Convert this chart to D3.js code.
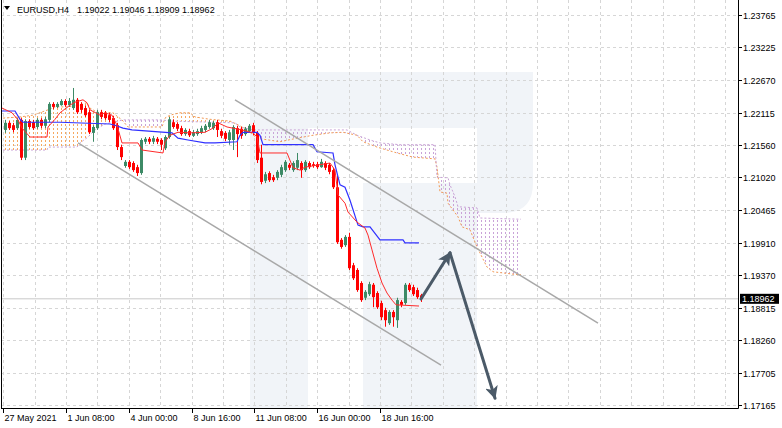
<!DOCTYPE html>
<html><head><meta charset="utf-8">
<script src="https://cdn.jsdelivr.net/npm/d3@7"></script>
<style>html,body{margin:0;padding:0;background:#fff;overflow:hidden}svg{display:block}</style>
</head><body><svg id="c" width="782" height="428"></svg>
<script>
const symbol = "EURUSD,H4";
const headerValues = ["1.19022", "1.19046", "1.18909", "1.18962"];
const lastClose = 1.18962;

const opens  = [1.2182,1.2194,1.2190,1.2185,1.2199,1.2135,1.2197,1.2195,1.2187,1.2199,1.2189,1.2199,1.2226,1.2221,1.2224,1.2231,1.2224,1.2219,1.2233,1.2226,1.2219,1.2212,1.2177,1.2185,1.2212,1.2211,1.2207,1.2202,1.2190,1.2153,1.2121,1.2128,1.2126,1.2119,1.2109,1.2162,1.2167,1.2162,1.2167,1.2165,1.2151,1.2170,1.2195,1.2192,1.2185,1.2175,1.2180,1.2172,1.2175,1.2178,1.2182,1.2187,1.2185,1.2195,1.2180,1.2177,1.2165,1.2165,1.2185,1.2184,1.2175,1.2180,1.2190,1.2177,1.2135,1.2096,1.2109,1.2102,1.2101,1.2106,1.2114,1.2123,1.2114,1.2118,1.2126,1.2114,1.2126,1.2124,1.2124,1.2119,1.2126,1.2123,1.2114,1.2085,1.1996,1.1987,1.2001,1.1953,1.1945,1.1923,1.1898,1.1904,1.1920,1.1906,1.1889,1.1877,1.1855,1.1874,1.1860,1.1891,1.1889,1.1920,1.1916,1.1911,1.19022];
const highs  = [1.2199,1.2197,1.2194,1.2202,1.2202,1.2200,1.2200,1.2199,1.2202,1.2202,1.2204,1.2229,1.2229,1.2229,1.2234,1.2234,1.2236,1.2253,1.2236,1.2229,1.2223,1.2216,1.2190,1.2216,1.2216,1.2214,1.2211,1.2206,1.2194,1.2157,1.2131,1.2131,1.2129,1.2123,1.2168,1.2170,1.2170,1.2172,1.2170,1.2168,1.2173,1.2204,1.2200,1.2195,1.2189,1.2185,1.2184,1.2182,1.2184,1.2189,1.2192,1.2199,1.2197,1.2199,1.2184,1.2180,1.2182,1.2190,1.2189,1.2187,1.2187,1.2192,1.2194,1.2180,1.2157,1.2111,1.2112,1.2106,1.2114,1.2123,1.2131,1.2126,1.2129,1.2143,1.2129,1.2131,1.2129,1.2128,1.2128,1.2133,1.2129,1.2126,1.2118,1.2104,1.1999,1.2004,1.2008,1.1957,1.1948,1.1926,1.1911,1.1925,1.1923,1.1909,1.1893,1.1881,1.1877,1.1877,1.1898,1.1894,1.1923,1.1923,1.1920,1.1915,1.19046];
const lows   = [1.2177,1.2182,1.2178,1.2182,1.2131,1.2131,1.2184,1.2182,1.2184,1.2185,1.2185,1.2195,1.2217,1.2219,1.2223,1.2221,1.2221,1.2216,1.2209,1.2211,1.2204,1.2175,1.2162,1.2182,1.2200,1.2199,1.2195,1.2182,1.2148,1.2131,1.2118,1.2116,1.2111,1.2104,1.2106,1.2158,1.2158,1.2158,1.2158,1.2148,1.2148,1.2167,1.2184,1.2180,1.2172,1.2172,1.2170,1.2170,1.2172,1.2175,1.2178,1.2184,1.2182,1.2170,1.2168,1.2163,1.2157,1.2148,1.2136,1.2167,1.2172,1.2177,1.2173,1.2126,1.2090,1.2092,1.2094,1.2094,1.2097,1.2102,1.2111,1.2114,1.2111,1.2114,1.2101,1.2111,1.2116,1.2118,1.2116,1.2118,1.2114,1.2107,1.2082,1.1989,1.1981,1.1984,1.1945,1.1928,1.1908,1.1891,1.1894,1.1901,1.1882,1.1879,1.1860,1.1849,1.1852,1.1849,1.1847,1.1882,1.1886,1.1908,1.1901,1.1896,1.18909];
const closes = [1.2194,1.2185,1.2182,1.2199,1.2135,1.2197,1.2187,1.2185,1.2199,1.2189,1.2200,1.2226,1.2221,1.2226,1.2231,1.2224,1.2231,1.2233,1.2212,1.2216,1.2207,1.2178,1.2187,1.2212,1.2204,1.2202,1.2199,1.2185,1.2153,1.2136,1.2128,1.2119,1.2114,1.2109,1.2165,1.2167,1.2162,1.2168,1.2162,1.2157,1.2170,1.2200,1.2187,1.2184,1.2175,1.2182,1.2173,1.2178,1.2180,1.2185,1.2189,1.2195,1.2194,1.2182,1.2172,1.2167,1.2178,1.2187,1.2175,1.2172,1.2184,1.2189,1.2177,1.2131,1.2094,1.2107,1.2097,1.2097,1.2111,1.2119,1.2128,1.2118,1.2126,1.2131,1.2114,1.2128,1.2119,1.2121,1.2119,1.2128,1.2118,1.2111,1.2085,1.1992,1.1984,1.2001,1.1948,1.1931,1.1911,1.1894,1.1908,1.1921,1.1899,1.1882,1.1865,1.1860,1.1874,1.1865,1.1894,1.1886,1.1920,1.1911,1.1904,1.1899,1.18962];

// Ichimoku lines: [bar index, price]
const tenkan = [[-0.75,1.2219],[1.75,1.2211],[3.25,1.2199],[4.25,1.2185],[6.25,1.2170],[10.5,1.2170],[10.75,1.2187],[12.5,1.2200],[13.75,1.2211],[16.25,1.2224],[17.5,1.2229],[19.5,1.2233],[20.5,1.2228],[21.25,1.2216],[23.75,1.2207],[25,1.2211],[26.75,1.2207],[28,1.2190],[29.25,1.2160],[33.25,1.2160],[34.25,1.2148],[39.5,1.2143],[40,1.2162],[41.25,1.2173],[43.25,1.2178],[46.25,1.2177],[50,1.2178],[52,1.2185],[53.25,1.2194],[55.5,1.2187],[59.25,1.2182],[62,1.2177],[63,1.2170],[63.75,1.2143],[70.5,1.2143],[72,1.2118],[73.75,1.2114],[75,1.2119],[81.25,1.2126],[82.5,1.2114],[83.25,1.2072],[85,1.2058],[85.75,1.2043],[88,1.2026],[90,1.2016],[90.75,1.2004],[91.75,1.1979],[93,1.1948],[94.25,1.1923],[95.5,1.1906],[96.75,1.1894],[97.75,1.1886],[103.5,1.1884]];
const kijun = [[-0.75,1.2214],[2.5,1.2214],[3.75,1.2200],[4.5,1.2195],[13.75,1.2195],[26.25,1.2192],[27.5,1.2190],[29.5,1.2185],[31.75,1.2182],[41.75,1.2177],[43.25,1.2168],[45.75,1.2165],[50,1.2160],[52.5,1.2160],[58,1.2162],[58.75,1.2173],[59.5,1.2178],[63,1.2178],[63.75,1.2173],[64.5,1.2157],[77,1.2157],[78,1.2145],[82,1.2143],[82.5,1.2123],[83.75,1.2089],[85,1.2085],[86.25,1.2063],[88.25,1.2021],[89.5,1.2018],[91.25,1.2018],[93.75,1.1996],[99.5,1.1996],[100,1.1991],[103.5,1.1991]];
const spanA = [[-0.5,1.2202],[3.75,1.2204],[7,1.2207],[10.75,1.2216],[12.5,1.2221],[15.5,1.2221],[18.75,1.2224],[20.5,1.2228],[21.25,1.2219],[23,1.2212],[27,1.2211],[28.25,1.2204],[29.25,1.2199],[30.75,1.2187],[39.25,1.2187],[40,1.2202],[41.25,1.2207],[43.75,1.2211],[46.25,1.2211],[47.5,1.2204],[51.25,1.2200],[56.25,1.2197],[60,1.2185],[63,1.2168],[68.75,1.2162],[73,1.2168],[77,1.2173],[81.25,1.2177],[84.5,1.2178],[88,1.2173],[89.5,1.2162],[93,1.2153],[98,1.2143],[102,1.2136],[107.5,1.2133],[108,1.2119],[108.75,1.2077],[110.5,1.2075],[110.75,1.2058],[113.25,1.2035],[114.25,1.2018],[116.25,1.2013],[118,1.1984],[120.5,1.1950],[122,1.1942],[128.25,1.1937],[129,1.1937]];
const spanB = [[-0.5,1.2148],[10.5,1.2148],[10.75,1.2153],[18,1.2153],[18.75,1.2160],[20.75,1.2170],[22.5,1.2182],[25,1.2192],[28.25,1.2197],[29.5,1.2199],[39.25,1.2199],[41.25,1.2197],[57.5,1.2194],[58.75,1.2187],[62,1.2182],[85.5,1.2182],[88,1.2173],[91.25,1.2165],[93.75,1.2160],[98.75,1.2157],[107.5,1.2157],[108,1.2102],[110.75,1.2101],[111.25,1.2089],[112.5,1.2069],[113.25,1.2052],[118,1.2050],[118.75,1.2033],[128.25,1.2031],[129,1.2031]];

const priceTicks = [1.23765,1.23225,1.22670,1.22115,1.21560,1.21020,1.20465,1.19910,1.19370,1.18815,1.18260,1.17705,1.17165];
const timeLabels = ["27 May 2021","1 Jun 08:00","4 Jun 00:00","8 Jun 16:00","11 Jun 08:00","16 Jun 00:00","18 Jun 16:00"];
const timeLabelBars = [-0.45,15.25,30.95,46.65,62.35,78.05,93.75];

const channelUpper = [[57.5,1.2233],[148.25,1.1855]];
const channelLower = [[18.25,1.2160],[109,1.1784]];
const forecastUp = [[104,1.1896],[111.25,1.1974]];
const forecastDown = [[111.25,1.1974],[122.5,1.1728]];

const plotL = 1, plotR = 738, plotB = 408;
const GREEN = "#3d8a66", RED = "#ff0000";
const FONT = "'Liberation Sans', Arial, sans-serif";

const x = d3.scaleLinear().domain([0,104]).range([5,421]);
const y = d3.scaleLinear().domain([1.23765,1.17165]).range([15,405]);
const svg = d3.select('#c');
const defs = svg.append('defs');

// watermark
const wm = svg.append('g').attr('fill','#f1f4f8');
wm.append('rect').attr('x',250).attr('y',72).attr('width',58).attr('height',336);
wm.append('path').attr('d','M250,72 H493 Q533,72 533,112 V128 H250 Z');
wm.append('path').attr('d','M477,72 H533 V183 Q533,213 503,213 H477 Z');
wm.append('rect').attr('x',363).attr('y',183).attr('width',140).attr('height',30);
wm.append('rect').attr('x',363).attr('y',183).attr('width',114).attr('height',225);

// grid
const grid = svg.append('g').attr('stroke','#d6d6d6').attr('stroke-width',1).attr('stroke-dasharray','3,3').attr('shape-rendering','crispEdges');
priceTicks.forEach(t=>{
  const yy = Math.round(y(t))+0.5;
  grid.append('line').attr('x1',plotL).attr('x2',plotR).attr('y1',yy).attr('y2',yy);
});
const gridBars = d3.range(24).map(n => timeLabelBars[0] + n*7.85);
gridBars.forEach(b=>{
  const xx = Math.round(x(b))+0.5;
  if (xx > plotL+1 && xx < plotR) grid.append('line').attr('x1',xx).attr('x2',xx).attr('y1',0).attr('y2',plotB);
});

// cloud hatch (vertical dotted lines per bar, clipped between the spans)
const pts = arr => arr.map(d=>[x(d[0]),y(d[1])]);
const pA = pts(spanA), pB = pts(spanB);
const poly = (p, yEdge) => 'M' + p.map(d=>d.join(',')).join('L') + `L${p[p.length-1][0]},${yEdge}L${p[0][0]},${yEdge}Z`;
defs.append('clipPath').attr('id','aboveB').append('path').attr('d',poly(pB,0));
defs.append('clipPath').attr('id','belowB').append('path').attr('d',poly(pB,plotB));
defs.append('clipPath').attr('id','aboveA').append('path').attr('d',poly(pA,0));
defs.append('clipPath').attr('id','belowA').append('path').attr('d',poly(pA,plotB));
const hatchBars = d3.range(0, 130);
function hatch(outerClip, innerClip, color){
  const g = svg.append('g').attr('clip-path',`url(#${outerClip})`).append('g').attr('clip-path',`url(#${innerClip})`)
    .attr('shape-rendering','crispEdges');
  hatchBars.forEach(b=>{
    const xx = Math.round(x(b))+0.5;
    g.append('line').attr('x1',xx).attr('x2',xx).attr('y1',0).attr('y2',plotB)
      .attr('stroke',color).attr('stroke-width',1).attr('stroke-dasharray','2,2');
  });
}
hatch('aboveB','belowA','#f6a860');
hatch('belowB','aboveA','#c9a3d8');

const line = d3.line().x(d=>x(d[0])).y(d=>y(d[1]));
svg.append('path').attr('d',line(spanA)).attr('fill','none').attr('stroke','#f29a55').attr('stroke-dasharray','2,2');
svg.append('path').attr('d',line(spanB)).attr('fill','none').attr('stroke','#c9a3d6').attr('stroke-dasharray','2,2');

// current price line
const yc = y(lastClose);
svg.append('line').attr('x1',plotL).attr('x2',plotR).attr('y1',yc).attr('y2',yc).attr('stroke','#c8c8c8');

// candles
const cg = svg.append('g');
opens.forEach((o,i)=>{
  const h=highs[i], l=lows[i], c=closes[i];
  const cx = Math.round(x(i))+0.5;
  const col = c>=o ? GREEN : RED;
  cg.append('line').attr('x1',cx).attr('x2',cx).attr('y1',y(h)).attr('y2',y(l)).attr('stroke',col);
  const top=y(Math.max(o,c)), bot=y(Math.min(o,c));
  cg.append('rect').attr('x',cx-1.5).attr('y',top).attr('width',3).attr('height',Math.max(1,bot-top)).attr('fill',col);
});

// tenkan / kijun
svg.append('path').attr('d',line(kijun)).attr('fill','none').attr('stroke','#3030ff').attr('stroke-width',1.2);
svg.append('path').attr('d',line(tenkan)).attr('fill','none').attr('stroke','#ff2a2a').attr('stroke-width',1);

// channel
[channelUpper, channelLower].forEach(c=>{
  svg.append('path').attr('d',line(c)).attr('fill','none').attr('stroke','#a8a8a8').attr('stroke-width',1.5);
});

// forecast arrows
defs.append('marker').attr('id','arrow').attr('viewBox','0 0 12 12').attr('refX',11).attr('refY',6)
  .attr('markerWidth',13).attr('markerHeight',13).attr('markerUnits','userSpaceOnUse').attr('orient','auto')
  .append('path').attr('d','M0,0 L12,6 L0,12 L3,6 Z').attr('fill','#4b5a68');
[forecastUp, forecastDown].forEach(f=>{
  svg.append('path').attr('d',line(f)).attr('fill','none').attr('stroke','#4b5a68').attr('stroke-width',3)
    .attr('stroke-linecap','round').attr('marker-end','url(#arrow)');
});

// frame / axes
svg.append('line').attr('x1',plotR+0.5).attr('x2',plotR+0.5).attr('y1',0).attr('y2',plotB+0.5).attr('stroke','#000');
svg.append('line').attr('x1',plotL).attr('x2',plotR+0.5).attr('y1',plotB+0.5).attr('y2',plotB+0.5).attr('stroke','#000');
svg.append('line').attr('x1',plotL+0.5).attr('x2',plotL+0.5).attr('y1',0).attr('y2',plotB+0.5).attr('stroke','#000');

const ax = svg.append('g').attr('font-family',FONT).attr('font-size','9px').attr('fill','#000');
priceTicks.forEach(t=>{
  const yy = Math.round(y(t))+0.5;
  ax.append('line').attr('x1',plotR).attr('x2',plotR+4).attr('y1',yy).attr('y2',yy).attr('stroke','#000');
  ax.append('text').attr('x',plotR+5).attr('y',yy+3.2).text(t.toFixed(5));
});
timeLabels.forEach((t,i)=>{
  const xx = Math.max(plotL+0.5, Math.round(x(timeLabelBars[i]))+0.5);
  ax.append('line').attr('x1',xx).attr('x2',xx).attr('y1',plotB).attr('y2',plotB+5).attr('stroke','#000');
  ax.append('text').attr('x',xx+1).attr('y',plotB+13).text(t);
});

// current price label
svg.append('rect').attr('x',740).attr('y',yc-5).attr('width',39).attr('height',10).attr('fill','#000');
svg.append('text').attr('x',742).attr('y',yc+3.3).attr('font-family',FONT).attr('font-size','9px').attr('fill','#fff').text(lastClose.toFixed(5));

// header
svg.append('path').attr('d','M4,6 L10,6 L7,10 Z').attr('fill','#000');
svg.append('text').attr('x',17).attr('y',13).attr('font-family',FONT).attr('font-size','9px').attr('fill','#000').text(symbol);
svg.append('text').attr('x',77).attr('y',13).attr('font-family',FONT).attr('font-size','9px').attr('fill','#000').text(headerValues.join(' '));
</script></body></html>
